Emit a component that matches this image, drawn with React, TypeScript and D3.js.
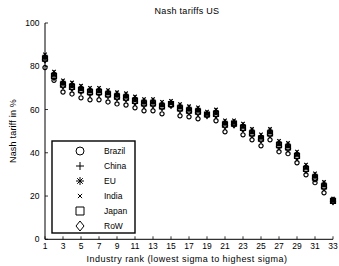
import * as d3 from 'd3'

const ranks = d3.range(1, 34)
const xTicks = [1, 3, 5, 7, 9, 11, 13, 15, 17, 19, 21, 23, 25, 27, 29, 31, 33]
const yTicks = [0, 20, 40, 60, 80, 100]

const brazil = [79.4, 73.5, 68.1, 67.2, 65.4, 64.5, 64.5, 63.5, 62.6, 62.1, 60.8, 59.4, 59.4, 58, 62.1, 57.1, 56.6, 55.7, 57.5, 54.8, 49.7, 53.4, 48.3, 46, 43.2, 46, 40.5, 39.6, 35.4, 29.8, 26.2, 21.5, 18.1]
const china = [85, 77, 73, 72, 70.5, 69.5, 69.5, 68.5, 67.5, 67, 65.5, 64.3, 64.3, 63, 63.5, 62, 61, 60.5, 58.5, 59.5, 54.5, 54.5, 53, 50.5, 48, 50.5, 45, 44, 40, 34, 30, 26, 18.5]
const eu = [84, 76, 72, 71, 69.5, 68.5, 68.5, 67.5, 66.5, 66, 64.5, 63.3, 63.3, 62, 63, 61, 60, 59.5, 58, 58.5, 53.5, 53.8, 52, 49.5, 47, 49.5, 44, 43, 39, 33, 29, 25, 18]
const india = [85.5, 77.5, 73.5, 72.5, 71, 70, 70, 69, 68, 67.5, 66, 64.8, 64.8, 63.5, 64, 62.5, 61.5, 61, 59, 60, 55, 55, 53.5, 51, 48.5, 51, 45.5, 44.5, 40.5, 34.5, 30.5, 26.5, 18.8]
const japan = [83.5, 75.5, 71.5, 70.5, 69, 68, 68, 67, 66, 65.5, 64, 62.8, 62.8, 61.5, 62.5, 60.5, 59.5, 59, 57.7, 58, 53, 53.5, 51.5, 49, 46.5, 49, 43.5, 42.5, 38.5, 32.5, 28.5, 24.5, 17.8]
const row = [83, 75, 71, 70, 68.5, 67.5, 67.5, 66.5, 65.5, 65, 63.5, 62.3, 62.3, 61, 62, 60, 59, 58.5, 57.3, 57.5, 52.5, 53, 51, 48.5, 46, 48.5, 43, 42, 38, 32, 28, 24, 17.5]

type Marker = 'circle' | 'plus' | 'star' | 'x' | 'square' | 'diamond'

const series: { name: string; values: number[]; marker: Marker }[] = [
  { name: 'Brazil', values: brazil, marker: 'circle' },
  { name: 'China', values: china, marker: 'plus' },
  { name: 'EU', values: eu, marker: 'star' },
  { name: 'India', values: india, marker: 'x' },
  { name: 'Japan', values: japan, marker: 'square' },
  { name: 'RoW', values: row, marker: 'diamond' },
]

// marker outline centred at 0,0, s = half size
const markerPath = (m: Marker, s: number) => {
  const p = d3.path()
  if (m === 'circle') {
    p.moveTo(s, 0)
    p.arc(0, 0, s, 0, Math.PI * 2)
  } else if (m === 'plus') {
    p.moveTo(-s, 0); p.lineTo(s, 0)
    p.moveTo(0, -s); p.lineTo(0, s)
  } else if (m === 'x') {
    const k = s * 0.7
    p.moveTo(-k, -k); p.lineTo(k, k)
    p.moveTo(-k, k); p.lineTo(k, -k)
  } else if (m === 'star') {
    const k = s * 0.7
    p.moveTo(-s, 0); p.lineTo(s, 0)
    p.moveTo(0, -s); p.lineTo(0, s)
    p.moveTo(-k, -k); p.lineTo(k, k)
    p.moveTo(-k, k); p.lineTo(k, -k)
  } else if (m === 'square') {
    p.rect(-s, -s, s * 2, s * 2)
  } else {
    p.moveTo(0, -s * 1.25); p.lineTo(s, 0); p.lineTo(0, s * 1.25); p.lineTo(-s, 0); p.closePath()
  }
  return p.toString()
}

const font = 'Liberation Sans, Arial, sans-serif'

export default function App() {
  const width = 339
  const height = 266
  const x = d3.scaleLinear().domain([1, 33]).range([45, 333])
  const y = d3.scaleLinear().domain([0, 100]).range([239.3, 23])

  const legend = { x: 52, y: 141, w: 83, h: 92 }

  return (
    <svg width={width} height={height} style={{ position: 'absolute', left: 0, top: 0, background: '#fff' }} fontFamily={font}>
      <text x={187} y={14} fontSize={9} letterSpacing={0.3} textAnchor="middle">Nash tariffs US</text>

      {/* axes */}
      <line x1={x(1)} x2={x(1)} y1={y(100)} y2={y(0)} stroke="#000" strokeWidth={1} />
      <line x1={x(1)} x2={x(33)} y1={y(0)} y2={y(0)} stroke="#000" strokeWidth={1} />
      {xTicks.map((t) => (
        <g key={'x' + t}>
          <line x1={x(t)} x2={x(t)} y1={y(0)} y2={y(0) - 3} stroke="#000" strokeWidth={0.8} />
          <text x={x(t)} y={y(0) + 10} fontSize={8.5} textAnchor="middle">{t}</text>
        </g>
      ))}
      {yTicks.map((t) => (
        <g key={'y' + t}>
          <line x1={x(1)} x2={x(1) + 3} y1={y(t)} y2={y(t)} stroke="#000" strokeWidth={0.8} />
          <text x={39.5} y={y(t) + 3} fontSize={8.5} textAnchor="end">{t}</text>
        </g>
      ))}
      <text x={187} y={262} fontSize={9} letterSpacing={0.45} textAnchor="middle">Industry rank (lowest sigma to highest sigma)</text>
      <text transform={`translate(16,131) rotate(-90)`} fontSize={9} letterSpacing={0.2} textAnchor="middle">Nash tariff in %</text>

      {/* data markers */}
      {series.map((s) => (
        <g key={s.name}>
          {s.values.map((v, i) => (
            <path
              key={i}
              d={markerPath(s.marker, s.marker === 'circle' ? 2.1 : 2.5)}
              transform={`translate(${x(ranks[i])},${y(v)})`}
              fill="none"
              stroke="#000"
              strokeWidth={1.2}
            />
          ))}
        </g>
      ))}

      {/* legend */}
      <rect x={legend.x} y={legend.y} width={legend.w} height={legend.h} fill="#fff" stroke="#000" strokeWidth={1.4} />
      {series.map((s, i) => (
        <g key={'l' + s.name} transform={`translate(0,${legend.y + 10 + i * 15})`}>
          <path d={markerPath(s.marker, s.marker === 'x' ? 3 : 4)} transform="translate(80,0)" fill="none" stroke="#000" strokeWidth={1} />
          <text x={104} y={3} fontSize={8.5}>{s.name}</text>
        </g>
      ))}
    </svg>
  )
}
